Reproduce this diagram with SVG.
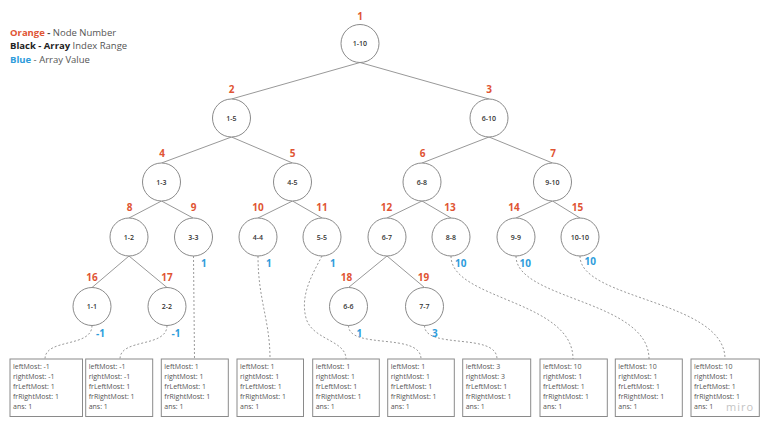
<svg xmlns="http://www.w3.org/2000/svg" width="768" height="428" viewBox="0 0 768 428">
<style>
text{font-family:"Open Sans","Noto Sans","Liberation Sans",sans-serif}
.n circle{fill:#fff;stroke:#8a8a8a;stroke-width:1}
.rng{font-size:7px;font-weight:600;fill:#333;text-anchor:middle}
.num{font-size:10px;font-weight:700;fill:#E05433;text-anchor:middle}
.val{font-size:10px;font-weight:700;fill:#2E9CDB}
.edge{stroke:#999;stroke-width:1;fill:none}
.dot{stroke:#999;stroke-width:1;fill:none;stroke-dasharray:2 2}
.box rect{fill:#fff;stroke:#8a8a8a;stroke-width:1}
.box text{font-size:7px;fill:#555}
.leg{font-size:9.5px;fill:#555}
</style>
<rect width="768" height="428" fill="#fff"/>
<g id="legend">
<text class="leg" x="10" y="35.5"><tspan font-weight="700" fill="#E05433">Orange</tspan><tspan font-weight="700" fill="#444"> - </tspan>Node Number</text>
<text class="leg" x="10" y="48.5"><tspan font-weight="700" fill="#222">Black - Array</tspan> Index Range</text>
<text class="leg" x="10" y="62.5"><tspan font-weight="700" fill="#2E9CDB">Blue</tspan> - Array Value</text>
</g>
<g id="connectors">
<line class="edge" x1="360" y1="62.5" x2="231.5" y2="99"/>
<line class="edge" x1="360" y1="62.5" x2="489" y2="99"/>
<line class="edge" x1="231.5" y1="137" x2="161.5" y2="163"/>
<line class="edge" x1="231.5" y1="137" x2="292.5" y2="163"/>
<line class="edge" x1="489" y1="137" x2="422" y2="163"/>
<line class="edge" x1="489" y1="137" x2="552.5" y2="163"/>
<line class="edge" x1="161.5" y1="201" x2="129" y2="218"/>
<line class="edge" x1="161.5" y1="201" x2="193" y2="218"/>
<line class="edge" x1="292.5" y1="201" x2="258" y2="218"/>
<line class="edge" x1="292.5" y1="201" x2="322" y2="218"/>
<line class="edge" x1="422" y1="201" x2="387" y2="218"/>
<line class="edge" x1="422" y1="201" x2="451" y2="218"/>
<line class="edge" x1="552.5" y1="201" x2="516" y2="218"/>
<line class="edge" x1="552.5" y1="201" x2="580" y2="218"/>
<line class="edge" x1="129" y1="256" x2="92" y2="287.5"/>
<line class="edge" x1="129" y1="256" x2="167" y2="287.5"/>
<line class="edge" x1="387" y1="256" x2="348.5" y2="287.5"/>
<line class="edge" x1="387" y1="256" x2="424.5" y2="287.5"/>
<path class="dot" d="M92 325.5 C92 348 45 338 45 359"/>
<path class="dot" d="M167 325.5 C167 348 120 338 120 359"/>
<path class="dot" d="M193.5 256 L194.5 359"/>
<path class="dot" d="M258 256 C258 300 270 320 270 359"/>
<path class="dot" d="M322 256 C312 275 300 295 306 318 C312 340 346 340 346 359"/>
<path class="dot" d="M348.5 325.5 C348.5 350 421 332 421 359"/>
<path class="dot" d="M424.5 325.5 C424.5 350 497 332 497 359"/>
<path class="dot" d="M451 256 C451 300 573 300 573 359"/>
<path class="dot" d="M516 256 C516 300 649 300 649 359"/>
<path class="dot" d="M580 256 C580 300 725 300 725 359"/>
</g>
<g id="node1" class="n"><circle cx="360" cy="43.5" r="19"/><text class="rng" x="360" y="46">1-10</text><text class="num" x="360" y="20">1</text></g>
<g id="node2" class="n"><circle cx="231.5" cy="118" r="19"/><text class="rng" x="231.5" y="120.5">1-5</text><text class="num" x="231.5" y="93">2</text></g>
<g id="node3" class="n"><circle cx="489" cy="118" r="19"/><text class="rng" x="489" y="120.5">6-10</text><text class="num" x="489" y="93">3</text></g>
<g id="node4" class="n"><circle cx="161.5" cy="182" r="19"/><text class="rng" x="161.5" y="184.5">1-3</text><text class="num" x="162" y="157">4</text></g>
<g id="node5" class="n"><circle cx="292.5" cy="182" r="19"/><text class="rng" x="292.5" y="184.5">4-5</text><text class="num" x="292.5" y="157">5</text></g>
<g id="node6" class="n"><circle cx="422" cy="182" r="19"/><text class="rng" x="422" y="184.5">6-8</text><text class="num" x="422.5" y="157">6</text></g>
<g id="node7" class="n"><circle cx="552.5" cy="182" r="19"/><text class="rng" x="552.5" y="184.5">9-10</text><text class="num" x="553" y="157">7</text></g>
<g id="node8" class="n"><circle cx="129" cy="237" r="19"/><text class="rng" x="129" y="239.5">1-2</text><text class="num" x="129.5" y="211">8</text></g>
<g id="node9" class="n"><circle cx="193.5" cy="237" r="19"/><text class="rng" x="193.5" y="239.5">3-3</text><text class="num" x="193.5" y="211">9</text><text class="val" x="201" y="266.5">1</text></g>
<g id="node10" class="n"><circle cx="258" cy="237" r="19"/><text class="rng" x="258" y="239.5">4-4</text><text class="num" x="258" y="211">10</text><text class="val" x="266" y="266.5">1</text></g>
<g id="node11" class="n"><circle cx="322" cy="237" r="19"/><text class="rng" x="322" y="239.5">5-5</text><text class="num" x="322" y="211">11</text><text class="val" x="330" y="266.5">1</text></g>
<g id="node12" class="n"><circle cx="387" cy="237" r="19"/><text class="rng" x="387" y="239.5">6-7</text><text class="num" x="386.5" y="211">12</text></g>
<g id="node13" class="n"><circle cx="451" cy="237" r="19"/><text class="rng" x="451" y="239.5">8-8</text><text class="num" x="450" y="211">13</text><text class="val" x="455" y="266.5">10</text></g>
<g id="node14" class="n"><circle cx="516" cy="237" r="19"/><text class="rng" x="516" y="239.5">9-9</text><text class="num" x="514" y="211">14</text><text class="val" x="519.5" y="266.5">10</text></g>
<g id="node15" class="n"><circle cx="580" cy="237" r="19"/><text class="rng" x="580" y="239.5">10-10</text><text class="num" x="577.5" y="211">15</text><text class="val" x="584.5" y="264.5">10</text></g>
<g id="node16" class="n"><circle cx="92" cy="306.5" r="19"/><text class="rng" x="92" y="309">1-1</text><text class="num" x="92" y="281">16</text><text class="val" x="96" y="336.5">-1</text></g>
<g id="node17" class="n"><circle cx="167" cy="306.5" r="19"/><text class="rng" x="167" y="309">2-2</text><text class="num" x="167" y="281">17</text><text class="val" x="171.5" y="336.5">-1</text></g>
<g id="node18" class="n"><circle cx="348.5" cy="306.5" r="19"/><text class="rng" x="348.5" y="309">6-6</text><text class="num" x="346.5" y="281">18</text><text class="val" x="356.5" y="336.5">1</text></g>
<g id="node19" class="n"><circle cx="424.5" cy="306.5" r="19"/><text class="rng" x="424.5" y="309">7-7</text><text class="num" x="423.5" y="281">19</text><text class="val" x="432" y="336.5">3</text></g>
<g id="box1" class="box"><rect x="10" y="359" width="72.5" height="57.5"/><text x="13" y="369">leftMost: -1</text><text x="13" y="378.9">rightMost: -1</text><text x="13" y="388.8">frLeftMost: 1</text><text x="13" y="398.7">frRightMost: 1</text><text x="13" y="408.6">ans: 1</text></g>
<g id="box2" class="box"><rect x="85.7" y="359" width="67" height="57.5"/><text x="88.7" y="369">leftMost: -1</text><text x="88.7" y="378.9">rightMost: -1</text><text x="88.7" y="388.8">frLeftMost: 1</text><text x="88.7" y="398.7">frRightMost: 1</text><text x="88.7" y="408.6">ans: 1</text></g>
<g id="box3" class="box"><rect x="161.3" y="359" width="67" height="57.5"/><text x="164.3" y="369">leftMost: 1</text><text x="164.3" y="378.9">rightMost: 1</text><text x="164.3" y="388.8">frLeftMost: 1</text><text x="164.3" y="398.7">frRightMost: 1</text><text x="164.3" y="408.6">ans: 1</text></g>
<g id="box4" class="box"><rect x="237" y="359" width="66.5" height="57.5"/><text x="240" y="369">leftMost: 1</text><text x="240" y="378.9">rightMost: 1</text><text x="240" y="388.8">frLeftMost: 1</text><text x="240" y="398.7">frRightMost: 1</text><text x="240" y="408.6">ans: 1</text></g>
<g id="box5" class="box"><rect x="312.7" y="359" width="66.6" height="57.5"/><text x="315.7" y="369">leftMost: 1</text><text x="315.7" y="378.9">rightMost: 1</text><text x="315.7" y="388.8">frLeftMost: 1</text><text x="315.7" y="398.7">frRightMost: 1</text><text x="315.7" y="408.6">ans: 1</text></g>
<g id="box6" class="box"><rect x="387.7" y="359" width="66.6" height="57.5"/><text x="390.7" y="369">leftMost: 1</text><text x="390.7" y="378.9">rightMost: 1</text><text x="390.7" y="388.8">frLeftMost: 1</text><text x="390.7" y="398.7">frRightMost: 1</text><text x="390.7" y="408.6">ans: 1</text></g>
<g id="box7" class="box"><rect x="462.7" y="359" width="68" height="57.5"/><text x="465.7" y="369">leftMost: 3</text><text x="465.7" y="378.9">rightMost: 3</text><text x="465.7" y="388.8">frLeftMost: 1</text><text x="465.7" y="398.7">frRightMost: 1</text><text x="465.7" y="408.6">ans: 1</text></g>
<g id="box8" class="box"><rect x="540" y="359" width="67.3" height="57.5"/><text x="543" y="369">leftMost: 10</text><text x="543" y="378.9">rightMost: 1</text><text x="543" y="388.8">frLeftMost: 1</text><text x="543" y="398.7">frRightMost: 1</text><text x="543" y="408.6">ans: 1</text></g>
<g id="box9" class="box"><rect x="615.3" y="359" width="67" height="57.5"/><text x="618.3" y="369">leftMost: 10</text><text x="618.3" y="378.9">rightMost: 1</text><text x="618.3" y="388.8">frLeftMost: 1</text><text x="618.3" y="398.7">frRightMost: 1</text><text x="618.3" y="408.6">ans: 1</text></g>
<g id="box10" class="box"><rect x="691" y="359" width="68.3" height="57.5"/><text x="694" y="369">leftMost: 10</text><text x="694" y="378.9">rightMost: 1</text><text x="694" y="388.8">frLeftMost: 1</text><text x="694" y="398.7">frRightMost: 1</text><text x="694" y="408.6">ans: 1</text></g>
<text x="726" y="411" font-size="11" fill="#c4c4c4" letter-spacing="1">miro</text>
</svg>
